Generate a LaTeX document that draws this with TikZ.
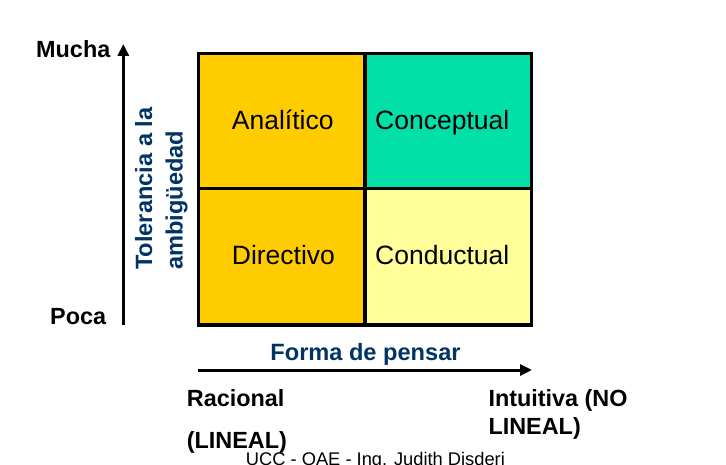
\documentclass[tikz,border=0pt]{standalone}
\usepackage{fontspec}
\setmainfont{Liberation Sans}
\usetikzlibrary{arrows.meta}
\definecolor{cOrange}{HTML}{FFCC00}
\definecolor{cGreen}{HTML}{00E0A8}
\definecolor{cYellow}{HTML}{FFFF99}
\definecolor{cBlue}{HTML}{003366}
\tikzset{
  celltxt/.style={anchor=base west, inner sep=0pt, font=\fontsize{26.5}{30}\selectfont},
  axlbl/.style={anchor=base west, inner sep=0pt, font=\bfseries\fontsize{23.4}{28}\selectfont},
  axtitle/.style={inner sep=0pt, text=cBlue, font=\bfseries\fontsize{23.6}{28}\selectfont},
  gridline/.style={line width=3.5pt, line cap=rect},
  axis/.style={line width=3pt, -{Triangle[length=12pt,width=11pt]}}
}
\begin{document}
\begin{tikzpicture}[x=1pt,y=-1pt]
\useasboundingbox (0,0) rectangle (726,465);
% cells
\fill[cOrange] (198.5,53.5) rectangle (365,325);
\fill[cGreen] (365,53.5) rectangle (531.5,188.3);
\fill[cYellow] (365,188.3) rectangle (531.5,325);
\draw[gridline] (198.5,53.5) rectangle (531.5,325);
\draw[gridline] (365,53.5) -- (365,325);
\draw[gridline] (198.5,188.3) -- (531.5,188.3);
% cell texts
\node[celltxt] (ana) at (231.7,130) {Analítico};
\node[celltxt] (con) at (375,130) {Conceptual};
\node[celltxt] (dir) at (231.7,265) {Directivo};
\node[celltxt] (cdt) at (375,265) {Conductual};
% y axis
\coordinate (ybot) at (123.3,325);
\coordinate (ytop) at (123.3,44);
\draw[axis] (ybot) -- (ytop);
\node[axlbl] (mucha) at (36,58) {Mucha};
\node[axlbl] (poca) at (50,324) {Poca};
\node[axtitle, anchor=base west, rotate=90] (tol1) at (152,270) {Tolerancia a la};
\node[axtitle, anchor=base west, rotate=90] (tol2) at (182.5,270) {ambigüedad};
% x axis
\coordinate (xl) at (198,370);
\coordinate (xr) at (532,370);
\draw[axis] (xl) -- (xr);
\node[axtitle, anchor=base] (forma) at (365.5,360.7) {Forma de pensar};
\node[axlbl] (rac) at (186.7,406) {Racional};
\node[axlbl] (lin) at (186.7,448.5) {(LINEAL)};
\node[axlbl] (int) at (488.3,406) {Intuitiva (NO};
\node[axlbl] (nol) at (488.3,434) {LINEAL)};
% footer
\node[anchor=base west, inner sep=0pt, font=\fontsize{18.3}{22}\selectfont] (foot) at (245.7,465.5) {UCC - OAE - Ing. Judith Disderi};
\end{tikzpicture}
\end{document}
